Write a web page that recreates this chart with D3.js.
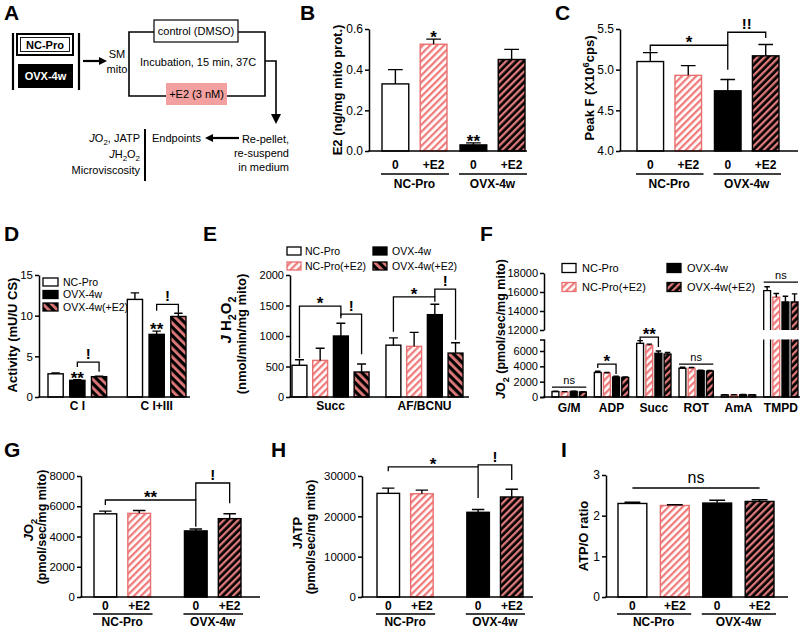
<!DOCTYPE html>
<html><head><meta charset="utf-8">
<script src="https://cdn.jsdelivr.net/npm/d3@7"></script>
<style>body{margin:0;background:#fff}svg{display:block}</style>
</head><body><svg id="fig" width="800" height="630"></svg>
<script>
// ---------------- DATA ----------------
const groups = ["NC-Pro", "OVX-4w"];
const treatments = ["0", "+E2"];
const barKinds = ["white", "pink", "black", "dark"];

const bValues = [0.33, 0.525, 0.03, 0.45];
const bErrTop = [0.40, 0.55, 0.04, 0.50];
const bTicks = [0, 0.2, 0.4, 0.6];

const cValues = [5.10, 4.93, 4.74, 5.17];
const cErrTop = [5.21, 5.05, 4.88, 5.31];
const cTicks = [4.0, 4.5, 5.0, 5.5];

const dCategories = ["C I", "C I+III"];
const dSeries = ["NC-Pro", "OVX-4w", "OVX-4w(+E2)"];
const dValues = [[2.85, 2.05, 2.5], [12.0, 7.7, 9.9]];
const dErrTop = [[2.95, 2.12, 2.56], [12.8, 8.1, 10.3]];
const dTicks = [0, 5, 10, 15];

const eCategories = ["Succ", "AF/BCNU"];
const eSeries = ["NC-Pro", "NC-Pro(+E2)", "OVX-4w", "OVX-4w(+E2)"];
const eValues = [[520, 600, 1000, 410], [850, 830, 1350, 720]];
const eErrTop = [[610, 800, 1210, 540], [970, 1060, 1520, 890]];
const eTicks = [0, 500, 1000, 1500, 2000];

const fCategories = ["G/M", "ADP", "Succ", "ROT", "AmA", "TMPD"];
const fSeries = ["NC-Pro", "NC-Pro(+E2)", "OVX-4w", "OVX-4w(+E2)"];
const fValues = [[700, 650, 720, 650], [3200, 3100, 2600, 2550], [7000, 6750, 5700, 5600],
                 [3750, 3750, 3420, 3380], [260, 260, 280, 270], [16150, 15450, 14950, 14950]];
const fErrTop = [[760, 700, 760, 700], [3350, 3200, 2700, 2620], [7350, 6900, 6000, 5800],
                 [3880, 3850, 3500, 3450], [300, 300, 320, 310], [16550, 15850, 15550, 15800]];
const fTicksLow = [0, 2000, 4000, 6000];
const fTicksHigh = [12000, 14000, 16000, 18000];

const gValues = [5500, 5530, 4370, 5180];
const gErrTop = [5680, 5720, 4500, 5500];
const gTicks = [0, 2000, 4000, 6000, 8000];

const hValues = [25700, 25600, 21000, 24800];
const hErrTop = [27000, 26500, 21700, 26700];
const hTicks = [0, 10000, 20000, 30000];

const iValues = [2.30, 2.25, 2.31, 2.35];
const iErrTop = [2.33, 2.27, 2.38, 2.39];
const iTicks = [0, 1, 2, 3];

// ---------------- DRAWING ----------------
const FONT = '"Liberation Sans", Arial, Helvetica, sans-serif';
const svg = d3.select("#fig");
const defs = svg.append("defs");

function hatch(id, bg, stripe, angle, period, sw) {
  const p = defs.append("pattern").attr("id", id).attr("patternUnits", "userSpaceOnUse")
    .attr("width", period).attr("height", period).attr("patternTransform", `rotate(${angle})`);
  p.append("rect").attr("width", period).attr("height", period).attr("fill", bg);
  p.append("rect").attr("width", sw).attr("height", period).attr("fill", stripe);
}
hatch("pinkR", "#ffffff", "#ef7b7b", 45, 5, 2.3);
hatch("darkR", "#000000", "#e07a7a", 45, 5, 2.3);
hatch("pinkL", "#ffffff", "#ef7b7b", -45, 5, 2.3);
hatch("darkL", "#000000", "#e07a7a", -45, 6, 2.8);

const STY = {
  white: { fill: "#fff", stroke: "#000" },
  pink: { fill: "url(#pinkR)", stroke: "#e86f6f" },
  black: { fill: "#000", stroke: "#000" },
  dark: { fill: "url(#darkR)", stroke: "#000" },
  darkL: { fill: "url(#darkL)", stroke: "#000" }
};

function rich(g, x, y, parts, o = {}) {
  const size = o.size || 12;
  const t = g.append("text").attr("x", x).attr("y", y)
    .attr("font-family", FONT).attr("font-size", size)
    .attr("font-weight", o.bold ? "bold" : "normal")
    .attr("text-anchor", o.anchor || "start").attr("fill", o.fill || "#000");
  if (o.rotate) t.attr("transform", `rotate(-90,${x},${y})`);
  if (typeof parts === "string") { t.text(parts); return t; }
  let cur = 0;
  parts.forEach(p => {
    const shift = p.sub ? size * 0.3 : p.sup ? -size * 0.42 : 0;
    const ts = t.append("tspan").attr("dy", shift - cur).text(p.t);
    cur = shift;
    if (p.sub || p.sup) ts.attr("font-size", size * 0.72);
    if (p.it) ts.attr("font-style", "italic");
  });
  return t;
}
function line(g, x1, y1, x2, y2, w = 1.5, c = "#000") {
  g.append("line").attr("x1", x1).attr("y1", y1).attr("x2", x2).attr("y2", y2)
    .attr("stroke", c).attr("stroke-width", w);
}
function arrow(g, x1, y1, x2, y2, head = 8) {
  const ang = Math.atan2(y2 - y1, x2 - x1);
  const bx = x2 - head * Math.cos(ang), by = y2 - head * Math.sin(ang);
  line(g, x1, y1, bx, by, 2.2);
  const w = head * 0.5, px = -Math.sin(ang) * w, py = Math.cos(ang) * w;
  g.append("path").attr("d", `M${x2},${y2}L${bx + px},${by + py}L${bx - px},${by - py}Z`).attr("fill", "#000");
}
function drawBar(g, x, w, yTop, yBase, st) {
  g.append("rect").attr("x", x).attr("y", yTop).attr("width", w).attr("height", Math.max(0, yBase - yTop))
    .attr("fill", st.fill).attr("stroke", st.stroke).attr("stroke-width", 1.4);
}
function drawErr(g, cx, yTop, yErr, cap) {
  g.append("path").attr("d", `M${cx},${yTop}V${yErr}M${cx - cap / 2},${yErr}H${cx + cap / 2}`)
    .attr("stroke", "#000").attr("stroke-width", 1.4).attr("fill", "none");
}
function bracket(g, x1, x2, yl, y1, y2, label, size) {
  g.append("path").attr("d", `M${x1},${y1}V${yl}H${x2}V${y2}`)
    .attr("stroke", "#000").attr("stroke-width", 1.3).attr("fill", "none");
  if (label) sigText(g, (x1 + x2) / 2, yl, label, size);
}
function sigText(g, x, yl, label, size) {
  if (label.startsWith("*")) rich(g, x, yl + 3, label, { bold: true, size: size || 17, anchor: "middle" });
  else if (label === "ns") rich(g, x, yl - 3, label, { size: size || 11, anchor: "middle" });
  else rich(g, x, yl - 3, label, { bold: true, size: size || 15, anchor: "middle" });
}
function yAxis(g, x, scale, ticks, fmt, fs, outer = 0) {
  const a = g.append("g").attr("transform", `translate(${x},0)`)
    .call(d3.axisLeft(scale).tickValues(ticks).tickFormat(fmt).tickSize(4).tickPadding(2).tickSizeOuter(outer));
  a.attr("font-family", FONT).attr("font-size", fs);
  a.select(".domain").attr("stroke-width", 1.5);
  a.selectAll(".tick line").attr("stroke-width", 1.5);
  a.selectAll(".tick text").attr("fill", "#000");
  return a;
}
function legendItem(g, x, y, st, label, fs, w = 15, h = 8, gap = 6) {
  g.append("rect").attr("x", x).attr("y", y - h / 2).attr("width", w).attr("height", h)
    .attr("fill", st.fill).attr("stroke", st.stroke).attr("stroke-width", 1.3);
  rich(g, x + w + gap, y + fs * 0.36, label, { size: fs });
}

// ---------- generic 2 groups x 2 treatments panel ----------
function panel4(c) {
  const g = svg.append("g");
  const y = d3.scaleLinear().domain(c.domain).range([c.y0, c.y1]);
  const gx = d3.scaleBand().domain(groups).range(c.xr).paddingInner(c.pg);
  const bx = d3.scaleBand().domain(treatments).range([0, gx.bandwidth()]).paddingInner(c.pb);
  const pos = [];
  groups.forEach((gr, gi) => treatments.forEach((t, ti) => {
    const i = gi * 2 + ti, x = gx(gr) + bx(t), w = bx.bandwidth();
    drawBar(g, x, w, y(c.values[i]), c.y0, STY[barKinds[i]]);
    drawErr(g, x + w / 2, y(c.values[i]), y(c.errors[i]), w * 0.55);
    pos.push(x + w / 2);
    rich(g, x + w / 2, c.tY, t, { bold: true, size: 12, anchor: "middle" });
  }));
  groups.forEach(gr => {
    line(g, gx(gr) - 1, c.uY, gx(gr) + gx.bandwidth() + 2, c.uY, 1.3);
    rich(g, gx(gr) + gx.bandwidth() / 2, c.gY, gr, { bold: true, size: 12, anchor: "middle" });
  });
  yAxis(g, c.ax, y, c.ticks, c.fmt, c.tickFs || 12);
  line(g, c.ax - 0.75, c.y0, c.xEnd, c.y0, 1.5);
  (c.stars || []).forEach(s => rich(g, pos[s.i], y(c.errors[s.i]) + 4, s.t, { bold: true, size: 17, anchor: "middle" }));
  (c.brackets || []).forEach(b => bracket(g, pos[b.a], pos[b.b], y(b.level), y(b.la), y(b.lb), b.t));
  (c.lines || []).forEach(b => {
    line(g, pos[b.a], y(b.level), pos[b.b], y(b.level), 1.3);
    sigText(g, (pos[b.a] + pos[b.b]) / 2, y(b.level) - 2, b.t, 16);
  });
  c.titles.forEach(tt => rich(g, tt.x, tt.y, tt.parts, { bold: true, size: tt.size || 13, anchor: "middle", rotate: true }));
  rich(g, c.lx, c.ly, c.letter, { bold: true, size: 21 });
  return g;
}

// ---------- Panel A ----------
(function () {
  const A = svg.append("g");
  rich(A, 4, 20, "A", { bold: true, size: 21 });
  A.append("path").attr("d", "M13,33V90M79,33V90").attr("stroke", "#000").attr("stroke-width", 2.2);
  A.append("rect").attr("x", 17).attr("y", 34).attr("width", 56).attr("height", 21)
    .attr("fill", "#fff").attr("stroke", "#000").attr("stroke-width", 2);
  A.append("rect").attr("x", 20.5).attr("y", 37.5).attr("width", 49).attr("height", 14)
    .attr("fill", "none").attr("stroke", "#000").attr("stroke-width", 0.9);
  rich(A, 45, 49, "NC-Pro", { bold: true, size: 11, anchor: "middle" });
  A.append("rect").attr("x", 18).attr("y", 64).attr("width", 55).attr("height", 24).attr("fill", "#000");
  rich(A, 45.5, 80, "OVX-4w", { bold: true, size: 11, anchor: "middle", fill: "#fff" });
  arrow(A, 83, 61, 107, 61);
  rich(A, 117, 58, "SM", { size: 11, anchor: "middle" });
  rich(A, 117, 73, "mito", { size: 11, anchor: "middle" });
  A.append("path").attr("d", "M154,32H129V96H166M227,96H265V32H238M265,61H276V116")
    .attr("fill", "none").attr("stroke", "#000").attr("stroke-width", 1.6);
  A.append("path").attr("d", "M276,124L271,114L281,114Z").attr("fill", "#000");
  A.append("rect").attr("x", 154).attr("y", 20).attr("width", 84).attr("height", 22)
    .attr("fill", "#fff").attr("stroke", "#000").attr("stroke-width", 1.2);
  rich(A, 196, 35, "control (DMSO)", { size: 11, anchor: "middle" });
  rich(A, 140, 66, "Incubation, 15 min, 37C", { size: 11 });
  A.append("rect").attr("x", 166).attr("y", 83).attr("width", 61).attr("height", 22).attr("fill", "#f2a0a0");
  rich(A, 196.5, 98, "+E2 (3 nM)", { size: 11, anchor: "middle" });
  rich(A, 289, 143, "Re-pellet,", { size: 11, anchor: "end" });
  rich(A, 289, 157, "re-suspend", { size: 11, anchor: "end" });
  rich(A, 289, 171, "in medium", { size: 11, anchor: "end" });
  arrow(A, 239, 138, 205, 138);
  rich(A, 152, 142, "Endpoints", { size: 11 });
  line(A, 145, 129, 145, 181, 2);
  rich(A, 140, 142, [{ t: "J", it: true }, { t: "O" }, { t: "2", sub: true }, { t: ", JATP" }], { size: 11, anchor: "end" });
  rich(A, 140, 158, [{ t: "J", it: true }, { t: "H" }, { t: "2", sub: true }, { t: "O" }, { t: "2", sub: true }], { size: 11, anchor: "end" });
  rich(A, 140, 174, "Microviscosity", { size: 11, anchor: "end" });
})();

// ---------- Panel B ----------
panel4({
  letter: "B", lx: 300, ly: 20,
  domain: [0, 0.6], y0: 151, y1: 29, ax: 369, xEnd: 527, xr: [382, 525], pg: 0.167, pb: 0.3,
  values: bValues, errors: bErrTop, ticks: bTicks, fmt: d3.format(".1f"),
  tY: 169, uY: 174, gY: 188,
  stars: [{ i: 1, t: "*" }, { i: 2, t: "**" }],
  titles: [{ x: 342, y: 90, parts: "E2 (ng/mg mito prot.)" }]
});

// ---------- Panel C ----------
panel4({
  letter: "C", lx: 555, ly: 20,
  domain: [4.0, 5.5], y0: 151, y1: 29, ax: 620, xEnd: 798, xr: [637, 779], pg: 0.167, pb: 0.3,
  values: cValues, errors: cErrTop, ticks: cTicks, fmt: d3.format(".1f"),
  tY: 169, uY: 174, gY: 188,
  brackets: [{ a: 0, b: 2, level: 5.30, la: 5.22, lb: 5.0, t: "*" }, { a: 2, b: 3, level: 5.46, la: 5.30, lb: 5.39, t: "!!" }],
  titles: [{ x: 594, y: 88, parts: [{ t: "Peak F (X10" }, { t: "6", sup: true }, { t: "cps)" }] }]
});

// ---------- Panel D ----------
(function () {
  const g = svg.append("g");
  const y = d3.scaleLinear().domain([0, 15]).range([397, 275]);
  const gx = d3.scaleBand().domain(dCategories).range([48, 186]).paddingInner(0.26);
  const bx = d3.scaleBand().domain(dSeries).range([0, gx.bandwidth()]).paddingInner(0.3);
  const kinds = ["white", "black", "darkL"];
  const pos = {};
  dCategories.forEach((cat, ci) => {
    pos[cat] = [];
    dSeries.forEach((s, si) => {
      const x = gx(cat) + bx(s), w = bx.bandwidth();
      drawBar(g, x, w, y(dValues[ci][si]), 397, STY[kinds[si]]);
      drawErr(g, x + w / 2, y(dValues[ci][si]), y(dErrTop[ci][si]), w * 0.55);
      pos[cat].push(x + w / 2);
    });
    rich(g, gx(cat) + gx.bandwidth() / 2, 410, cat, { bold: true, size: 12, anchor: "middle" });
    rich(g, pos[cat][1], y(dErrTop[ci][1]) + 4, "**", { bold: true, size: 17, anchor: "middle" });
  });
  bracket(g, pos["C I"][1], pos["C I"][2], y(4.3), y(3.7), y(3.1), "!");
  bracket(g, pos["C I+III"][1], pos["C I+III"][2], y(11.4), y(10.6), y(10.35), "!");
  yAxis(g, 39, y, dTicks, d3.format("d"), 11.5);
  line(g, 38.25, 397, 190, 397, 1.5);
  dSeries.forEach((s, si) => legendItem(g, 43, 282 + si * 12.5, STY[kinds[si]], s, 10.5, 15, 8, 5));
  rich(g, 17, 335, "Activity (mU/U CS)", { bold: true, size: 13, anchor: "middle", rotate: true });
  rich(g, 4, 241, "D", { bold: true, size: 21 });
})();

// ---------- Panel E ----------
(function () {
  const g = svg.append("g");
  const y = d3.scaleLinear().domain([0, 2000]).range([397, 275]);
  const gx = d3.scaleBand().domain(eCategories).range([292, 463]).paddingInner(0.18);
  const bx = d3.scaleBand().domain(eSeries).range([0, gx.bandwidth()]).paddingInner(0.28);
  const kinds = ["white", "pink", "black", "darkL"];
  const pos = {};
  eCategories.forEach((cat, ci) => {
    pos[cat] = [];
    eSeries.forEach((s, si) => {
      const x = gx(cat) + bx(s), w = bx.bandwidth();
      drawBar(g, x, w, y(eValues[ci][si]), 397, STY[kinds[si]]);
      drawErr(g, x + w / 2, y(eValues[ci][si]), y(eErrTop[ci][si]), w * 0.6);
      pos[cat].push(x + w / 2);
    });
    rich(g, gx(cat) + gx.bandwidth() / 2, 410, cat, { bold: true, size: 12, anchor: "middle" });
  });
  const S = pos["Succ"], F = pos["AF/BCNU"];
  bracket(g, S[0], S[2], y(1490), y(640), y(1330), "*");
  bracket(g, S[2], S[3], y(1360), y(1290), y(700), "!");
  bracket(g, F[0], F[2], y(1640), y(1070), y(1560), "*");
  bracket(g, F[2], F[3], y(1770), y(1640), y(940), "!");
  yAxis(g, 290, y, eTicks, d3.format("d"), 11);
  line(g, 289.25, 397, 469, 397, 1.5);
  legendItem(g, 287, 251, STY.white, "NC-Pro", 10.5, 14, 8, 4);
  legendItem(g, 373, 251, STY.black, "OVX-4w", 10.5, 14, 8, 5);
  legendItem(g, 287, 266, STY.pink, "NC-Pro(+E2)", 10.5, 14, 8, 4);
  legendItem(g, 373, 266, STY.darkL, "OVX-4w(+E2)", 10.5, 14, 8, 5);
  rich(g, 231, 320, [{ t: "J", it: true }, { t: " H" }, { t: "2", sub: true }, { t: "O" }, { t: "2", sub: true }], { bold: true, size: 15, anchor: "middle", rotate: true });
  rich(g, 246, 334, "(nmol/min/mg mito)", { bold: true, size: 13, anchor: "middle", rotate: true });
  rich(g, 203, 241, "E", { bold: true, size: 21 });
})();

// ---------- Panel F (broken axis) ----------
(function () {
  const g = svg.append("g");
  const yLow = d3.scaleLinear().domain([0, 7500]).range([397, 339.5]);
  const yHigh = d3.scaleLinear().domain([12000, 18000]).range([330, 273]);
  const yv = v => (v > 7500 ? yHigh(v) : yLow(v));
  const gx = d3.scaleBand().domain(fCategories).range([552, 798]).paddingInner(0.19);
  const bx = d3.scaleBand().domain(fSeries).range([0, gx.bandwidth()]).paddingInner(0.25);
  const kinds = ["white", "pink", "black", "dark"];
  const pos = {};
  fCategories.forEach((cat, ci) => {
    pos[cat] = [];
    fSeries.forEach((s, si) => {
      const x = gx(cat) + bx(s), w = bx.bandwidth(), v = fValues[ci][si], st = STY[kinds[si]];
      if (v > 7500) {
        g.append("rect").attr("x", x).attr("y", yLow(7500)).attr("width", w).attr("height", 397 - yLow(7500)).attr("fill", st.fill);
        g.append("rect").attr("x", x).attr("y", yHigh(v)).attr("width", w).attr("height", 330 - yHigh(v)).attr("fill", st.fill);
        g.append("path").attr("d", `M${x},${yLow(7500)}V397H${x + w}V${yLow(7500)}M${x},330V${yHigh(v)}H${x + w}V330`)
          .attr("fill", "none").attr("stroke", st.stroke).attr("stroke-width", 1.3);
      } else {
        drawBar(g, x, w, yLow(v), 397, st);
      }
      drawErr(g, x + w / 2, yv(v), yv(fErrTop[ci][si]), w * 0.8);
      pos[cat].push(x + w / 2);
    });
    rich(g, gx(cat) + gx.bandwidth() / 2, 412, cat, { bold: true, size: 12, anchor: "middle" });
  });
  const A = pos["ADP"], S = pos["Succ"];
  bracket(g, A[0], A[2], yLow(4300), yLow(3780), yLow(3000), "*");
  bracket(g, S[0], S[2], yLow(7820), yLow(7430), yLow(6520), "**");
  [["G/M", yLow(1300)], ["ROT", yLow(4300)], ["TMPD", yHigh(17050)]].forEach(([cat, yy]) => {
    const x0 = gx(cat), x1 = gx(cat) + gx.bandwidth();
    line(g, x0, yy, x1, yy, 1.3);
    sigText(g, (x0 + x1) / 2, yy, "ns", 11);
  });
  yAxis(g, 544, yLow, fTicksLow, d3.format("d"), 11, 4);
  yAxis(g, 544, yHigh, fTicksHigh, d3.format("d"), 11, 0);
  line(g, 543.25, 397, 800, 397, 1.5);
  legendItem(g, 562, 268, STY.white, "NC-Pro", 11, 14, 9);
  legendItem(g, 667, 268, STY.black, "OVX-4w", 11, 14, 9);
  legendItem(g, 562, 287, STY.pink, "NC-Pro(+E2)", 11, 14, 9);
  legendItem(g, 667, 287, STY.dark, "OVX-4w(+E2)", 11, 14, 9);
  rich(g, 505, 329, [{ t: "J", it: true }, { t: "O" }, { t: "2", sub: true }, { t: " (pmol/sec/mg mito)" }], { bold: true, size: 12.5, anchor: "middle", rotate: true });
  rich(g, 480, 241, "F", { bold: true, size: 21 });
})();

// ---------- Panel G ----------
panel4({
  letter: "G", lx: 4, ly: 457,
  domain: [0, 8000], y0: 597, y1: 476, ax: 81, xEnd: 260, xr: [94, 241], pg: 0.375, pb: 0.33,
  values: gValues, errors: gErrTop, ticks: gTicks, fmt: d3.format("d"), tickFs: 11.5,
  tY: 610, uY: 614, gY: 626,
  brackets: [{ a: 0, b: 2, level: 6413, la: 6083, lb: 4650, t: "**" }, { a: 2, b: 3, level: 7537, la: 6413, lb: 6200, t: "!" }],
  titles: [{ x: 33, y: 530, parts: [{ t: "J", it: true }, { t: "O" }, { t: "2", sub: true }] },
           { x: 45.5, y: 527, parts: "(pmol/sec/mg mito)", size: 12.5 }]
});

// ---------- Panel H ----------
panel4({
  letter: "H", lx: 271, ly: 457,
  domain: [0, 30000], y0: 597, y1: 476, ax: 362, xEnd: 533, xr: [377, 523], pg: 0.375, pb: 0.33,
  values: hValues, errors: hErrTop, ticks: hTicks, fmt: d3.format("d"), tickFs: 11.5,
  tY: 610, uY: 614, gY: 626,
  brackets: [{ a: 0, b: 2, level: 32240, la: 31200, lb: 24550, t: "*" }, { a: 2, b: 3, level: 32740, la: 32240, lb: 29000, t: "!" }],
  titles: [{ x: 302, y: 533, parts: "JATP" }, { x: 315, y: 537, parts: "(pmol/sec/mg mito)", size: 12.5 }]
});

// ---------- Panel I ----------
panel4({
  letter: "I", lx: 561, ly: 457,
  domain: [0, 3], y0: 597, y1: 475, ax: 606, xEnd: 788, xr: [618, 774], pg: 0.16, pb: 0.32,
  values: iValues, errors: iErrTop, ticks: iTicks, fmt: d3.format("d"), tickFs: 12,
  tY: 610, uY: 614, gY: 626,
  lines: [{ a: 0, b: 3, level: 2.68, t: "ns" }],
  titles: [{ x: 588, y: 536, parts: "ATP/O ratio" }]
});
</script></body></html>
